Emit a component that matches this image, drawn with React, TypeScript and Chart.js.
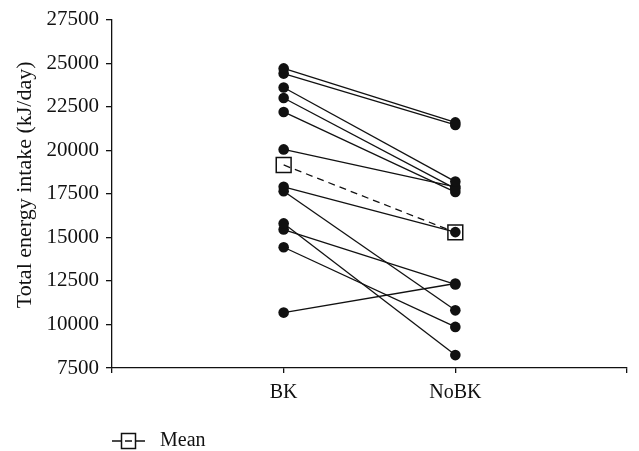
import React, { useEffect, useRef } from 'react';
import { Chart, registerables } from 'chart.js';

Chart.register(...registerables);

// ---- data ----
const categories = ['', 'BK', 'NoBK', ''];
const bkValues = [24700, 24400, 23600, 23000, 22200, 20050, 17900, 17650, 15800, 15450, 14430, 10680];
const noBkValues = [21600, 21450, 18200, 17800, 17600, 17900, 15300, 10810, 8240, 12300, 9860, 12350];
const meanValues = [19155, 15284];
const yMin = 7500;
const yMax = 27500;
const yStep = 2500;
const yTitle = 'Total energy intake (kJ/day)';
const legendLabel = 'Mean';

const FONT = "'Liberation Serif', 'Times New Roman', serif";
const INK = '#111111';

const overlayPlugin = {
  id: 'overlay',
  afterDraw(chart: any) {
    const { ctx, chartArea } = chart;
    ctx.save();
    // y axis title
    ctx.fillStyle = INK;
    ctx.font = `22px ${FONT}`;
    ctx.textAlign = 'center';
    ctx.textBaseline = 'middle';
    ctx.translate(chartArea.left - 87, (chartArea.top + chartArea.bottom) / 2 - 9);
    ctx.rotate(-Math.PI / 2);
    ctx.fillText(yTitle, 0, 0);
    ctx.restore();

    // legend
    ctx.save();
    const ly = chartArea.bottom + 73;
    const lx = chartArea.left;
    ctx.strokeStyle = INK;
    ctx.lineWidth = 1.3;
    ctx.beginPath();
    ctx.moveTo(lx, ly);
    ctx.lineTo(lx + 9, ly);
    ctx.moveTo(lx + 13, ly);
    ctx.lineTo(lx + 20, ly);
    ctx.moveTo(lx + 24, ly);
    ctx.lineTo(lx + 33, ly);
    ctx.stroke();
    ctx.lineWidth = 1.5;
    ctx.strokeRect(lx + 9.5, ly - 7.5, 14, 15);
    ctx.fillStyle = INK;
    ctx.font = `20px ${FONT}`;
    ctx.textAlign = 'left';
    ctx.textBaseline = 'middle';
    ctx.fillText(legendLabel, lx + 48, ly);
    ctx.restore();
  },
};

export default function App() {
  const canvasRef = useRef<HTMLCanvasElement | null>(null);

  useEffect(() => {
    if (!canvasRef.current) return;
    const subjectSets = bkValues.map((bk, i) => ({
      label: `S${i + 1}`,
      data: [
        { x: 1, y: bk },
        { x: 2, y: noBkValues[i] },
      ],
      borderColor: INK,
      borderWidth: 1.3,
      pointRadius: 5.3,
      pointBackgroundColor: INK,
      pointBorderColor: INK,
      pointBorderWidth: 0,
      fill: false,
    }));
    const meanSet = {
      label: legendLabel,
      data: [
        { x: 1, y: meanValues[0] },
        { x: 2, y: meanValues[1] },
      ],
      borderColor: INK,
      borderWidth: 1.3,
      borderDash: [7, 5],
      pointStyle: 'rect',
      pointRadius: 10.5,
      pointBackgroundColor: 'rgba(0,0,0,0)',
      pointBorderColor: INK,
      pointBorderWidth: 1.5,
      fill: false,
    };

    const chart = new Chart(canvasRef.current, {
      type: 'line',
      data: { datasets: [meanSet, ...subjectSets] as any },
      options: {
        animation: false,
        responsive: false,
        maintainAspectRatio: false,
        layout: { padding: { left: 0, top: 19, right: 5, bottom: 0 } },
        plugins: {
          legend: { display: false },
          tooltip: { enabled: false },
        },
        scales: {
          x: {
            type: 'linear',
            min: 0,
            max: categories.length - 1,
            afterFit: (scale: any) => {
              scale.height = 83;
            },
            afterBuildTicks: (scale: any) => {
              scale.ticks = categories.map((_, i) => ({ value: i }));
            },
            ticks: {
              callback: (v: any) => categories[v] ?? '',
              color: INK,
              font: { family: FONT, size: 20 },
              padding: 8,
              maxRotation: 0,
              autoSkip: false,
            },
            grid: {
              drawOnChartArea: false,
              drawTicks: true,
              tickLength: 5,
              color: INK,
              lineWidth: 1.3,
            },
            border: { color: INK, width: 1.3 },
          },
          y: {
            type: 'linear',
            min: yMin,
            max: yMax,
            afterFit: (scale: any) => {
              scale.width = 112;
            },
            ticks: {
              stepSize: yStep,
              color: INK,
              font: { family: FONT, size: 21 },
              padding: 7,
              callback: (v: any) => String(v),
            },
            grid: {
              drawOnChartArea: false,
              drawTicks: true,
              tickLength: 6,
              color: INK,
              lineWidth: 1.3,
            },
            border: { color: INK, width: 1.3 },
          },
        },
      },
      plugins: [overlayPlugin],
    } as any);
    return () => chart.destroy();
  }, []);

  return (
    <div style={{ position: 'fixed', left: 0, top: 0, width: 639, height: 451, background: '#fff' }}>
      <canvas ref={canvasRef} width={639} height={451} style={{ width: 639, height: 451, display: 'block' }} />
    </div>
  );
}
